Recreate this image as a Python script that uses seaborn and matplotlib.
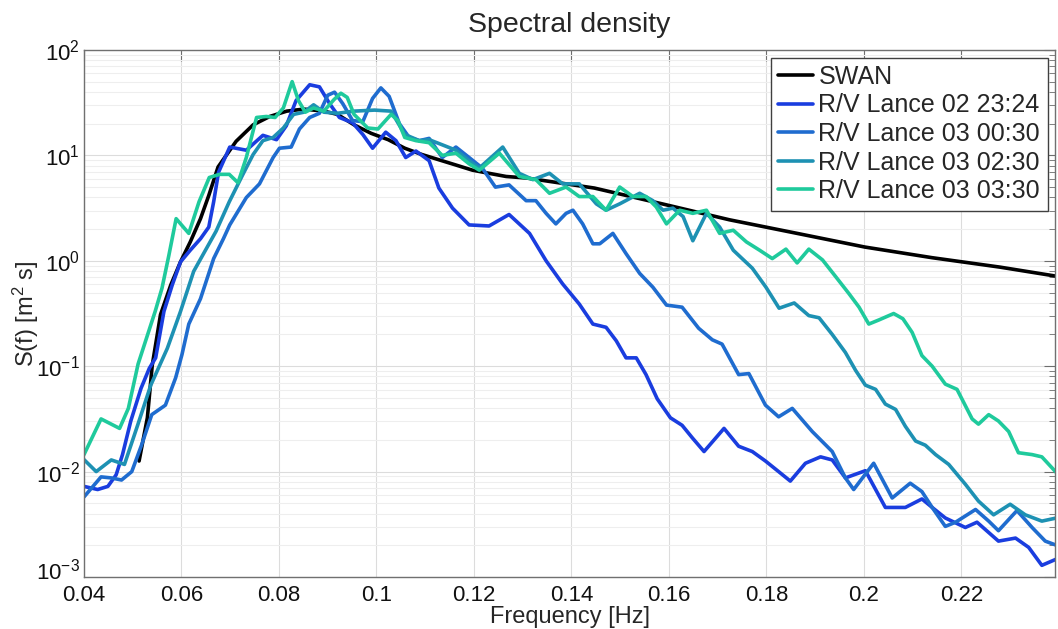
import numpy as np
import pandas as pd
import seaborn as sns
import matplotlib.pyplot as plt
from matplotlib.transforms import ScaledTranslation
from matplotlib.ticker import FixedLocator, FuncFormatter, LogLocator, NullFormatter, NullLocator

# values (frequency in Hz, S in m^2 s)
swan_f = [0.0513, 0.0530, 0.0540, 0.0557, 0.0578, 0.0598, 0.0618, 0.0639, 0.0656, 0.0675,
          0.0712, 0.0747, 0.0781, 0.0816, 0.0851, 0.0892, 0.0920, 0.0954, 0.0989, 0.1024,
          0.1058, 0.1093, 0.1127, 0.1162, 0.1197, 0.1231, 0.1266, 0.1308, 0.1447, 0.1586,
          0.1724, 0.1863, 0.2002, 0.2140, 0.2279, 0.2400]
swan_s = [0.0126, 0.0324, 0.102, 0.309, 0.589, 0.977, 1.51, 2.51, 4.17, 7.76,
          13.6, 19.5, 23.4, 26.3, 27.5, 26.3, 24.5, 19.5, 16.2, 14.1,
          11.7, 10.2, 9.12, 8.13, 7.24, 6.76, 6.31, 6.1, 4.90, 3.47,
          2.45, 1.82, 1.35, 1.07, 0.871, 0.708]

lance1_f = [0.0400, 0.0428, 0.0449, 0.0466, 0.0479, 0.0496, 0.0517, 0.0534, 0.0547, 0.0564,
            0.0581, 0.0598, 0.0618, 0.0639, 0.0656, 0.0666, 0.0676, 0.0699, 0.0733, 0.0767,
            0.0795, 0.0815, 0.0835, 0.0863, 0.0883, 0.0904, 0.0924, 0.0951, 0.0972, 0.0992,
            0.1019, 0.1040, 0.1060, 0.1081, 0.1108, 0.1128, 0.1156, 0.1190, 0.1231, 0.1272,
            0.1314, 0.1348, 0.1382, 0.1416, 0.1444, 0.1471, 0.1492, 0.1512, 0.1533, 0.1553,
            0.1576, 0.1603, 0.1627, 0.1648, 0.1672, 0.1713, 0.1743, 0.1771, 0.1798, 0.1825,
            0.1849, 0.1880, 0.1911, 0.1935, 0.1962, 0.2003, 0.2044, 0.2085, 0.2119, 0.2140,
            0.2167, 0.2208, 0.2232, 0.2276, 0.2311, 0.2338, 0.2365, 0.2395]
lance1_s = [0.00724, 0.00676, 0.00724, 0.00933, 0.0145, 0.0302, 0.0617, 0.0955, 0.120, 0.331,
            0.589, 0.977, 1.26, 1.62, 2.09, 3.63, 6.92, 12.0, 11.2, 15.5,
            14.1, 19.1, 33.1, 46.8, 44.7, 30.9, 22.9, 20.4, 15.8, 11.7,
            16.6, 13.8, 9.55, 11.0, 8.91, 4.90, 3.16, 2.19, 2.14, 2.75,
            1.82, 1.00, 0.603, 0.389, 0.251, 0.234, 0.174, 0.120, 0.120, 0.0832,
            0.0490, 0.0324, 0.0275, 0.0209, 0.0155, 0.0257, 0.0174, 0.0155, 0.0126, 0.0100,
            0.00813, 0.0120, 0.0138, 0.0129, 0.00871, 0.0102, 0.00457, 0.00457, 0.00550, 0.00457,
            0.00363, 0.00295, 0.00331, 0.00219, 0.00234, 0.00191, 0.00129, 0.00148]

lance2_f = [0.0400, 0.0435, 0.0456, 0.0477, 0.0498, 0.0518, 0.0539, 0.0567, 0.0588, 0.0601,
            0.0615, 0.0639, 0.0666, 0.0686, 0.0699, 0.0733, 0.0760, 0.0788, 0.0801, 0.0825,
            0.0842, 0.0863, 0.0883, 0.0900, 0.0914, 0.0931, 0.0951, 0.0972, 0.0992, 0.1009,
            0.1026, 0.1047, 0.1067, 0.1088, 0.1108, 0.1135, 0.1163, 0.1190, 0.1217, 0.1244,
            0.1272, 0.1307, 0.1327, 0.1348, 0.1368, 0.1389, 0.1403, 0.1423, 0.1444, 0.1458,
            0.1485, 0.1512, 0.1540, 0.1567, 0.1595, 0.1627, 0.1661, 0.1689, 0.1709, 0.1743,
            0.1764, 0.1798, 0.1825, 0.1853, 0.1894, 0.1935, 0.1962, 0.1979, 0.2020, 0.2058,
            0.2095, 0.2119, 0.2140, 0.2167, 0.2188, 0.2229, 0.2256, 0.2276, 0.2314, 0.2345,
            0.2372, 0.2395]
lance2_s = [0.00575, 0.00891, 0.00871, 0.00832, 0.0100, 0.0178, 0.0347, 0.0427, 0.0776, 0.129,
            0.251, 0.437, 1.05, 1.62, 2.19, 3.98, 5.37, 9.55, 11.7, 12.0,
            17.8, 22.9, 25.1, 37.2, 39.8, 30.9, 21.4, 20.9, 34.7, 43.7,
            36.3, 20.0, 14.8, 13.8, 14.5, 9.55, 12.0, 9.55, 7.59, 5.0,
            5.25, 3.72, 3.72, 2.82, 2.24, 2.82, 3.02, 2.24, 1.45, 1.45,
            1.82, 1.17, 0.759, 0.562, 0.380, 0.363, 0.229, 0.178, 0.162, 0.0832,
            0.0851, 0.0427, 0.0331, 0.0398, 0.0240, 0.0155, 0.00871, 0.00676, 0.0120, 0.00562,
            0.00776, 0.00646, 0.00457, 0.00302, 0.00331, 0.00437, 0.00339, 0.00275, 0.00427, 0.00295,
            0.00219, 0.00200]

lance3_f = [0.0400, 0.0425, 0.0456, 0.0483, 0.0510, 0.0537, 0.0571, 0.0598, 0.0625, 0.0643,
            0.0671, 0.0698, 0.0726, 0.0747, 0.0767, 0.0788, 0.0809, 0.0830, 0.0851, 0.0871,
            0.0892, 0.0920, 0.0954, 0.0996, 0.1030, 0.1058, 0.1088, 0.1108, 0.1135, 0.1163,
            0.1190, 0.1211, 0.1259, 0.1293, 0.1321, 0.1355, 0.1382, 0.1416, 0.1451, 0.1471,
            0.1499, 0.1540, 0.1567, 0.1588, 0.1608, 0.1629, 0.1649, 0.1677, 0.1704, 0.1732,
            0.1771, 0.1799, 0.1826, 0.1857, 0.1887, 0.1908, 0.1935, 0.1962, 0.1983, 0.2003,
            0.2024, 0.2044, 0.2065, 0.2085, 0.2106, 0.2126, 0.2147, 0.2174, 0.2208, 0.2235,
            0.2266, 0.2300, 0.2331, 0.2365, 0.2395]
lance3_s = [0.0130, 0.0100, 0.0129, 0.0117, 0.0275, 0.0661, 0.148, 0.331, 0.794, 1.12,
            1.91, 3.63, 6.61, 10.2, 13.8, 14.8, 18.2, 24.5, 25.7, 30.2,
            25.7, 25.1, 26.3, 26.9, 26.3, 15.8, 13.8, 14.1, 12.6, 11.2,
            8.91, 7.59, 12.0, 6.76, 5.89, 6.76, 5.37, 5.37, 3.47, 3.02,
            3.47, 4.37, 3.72, 3.02, 3.16, 2.63, 1.55, 2.82, 2.09, 1.26,
            0.851, 0.562, 0.355, 0.398, 0.302, 0.288, 0.200, 0.135, 0.0912, 0.0661,
            0.0603, 0.0437, 0.0389, 0.0269, 0.0195, 0.0178, 0.0145, 0.0117, 0.00759, 0.00525,
            0.00389, 0.00490, 0.00389, 0.00339, 0.00363]

lance4_f = [0.0400, 0.0435, 0.0473, 0.0491, 0.0511, 0.0532, 0.0546, 0.0560, 0.0574, 0.0589,
            0.0615, 0.0636, 0.0657, 0.0678, 0.0698, 0.0716, 0.0733, 0.0754, 0.0774, 0.0792,
            0.0809, 0.0827, 0.0840, 0.0854, 0.0871, 0.0892, 0.0913, 0.0927, 0.0940, 0.0954,
            0.0982, 0.1003, 0.1030, 0.1044, 0.1058, 0.1081, 0.1108, 0.1135, 0.1163, 0.1190,
            0.1211, 0.1252, 0.1293, 0.1327, 0.1355, 0.1389, 0.1416, 0.1444, 0.1471, 0.1499,
            0.1526, 0.1553, 0.1574, 0.1595, 0.1622, 0.1649, 0.1677, 0.1704, 0.1732, 0.1759,
            0.1786, 0.1812, 0.1840, 0.1863, 0.1887, 0.1915, 0.1942, 0.1969, 0.1990, 0.2010,
            0.2031, 0.2061, 0.2080, 0.2099, 0.2119, 0.2140, 0.2167, 0.2191, 0.2222, 0.2235,
            0.2256, 0.2276, 0.2297, 0.2317, 0.2345, 0.2365, 0.2395]
lance4_s = [0.0145, 0.0316, 0.0257, 0.0398, 0.105, 0.209, 0.331, 0.550, 1.12, 2.51,
            1.82, 3.63, 6.17, 6.61, 6.61, 5.50, 9.55, 22.9, 23.4, 22.9,
            28.2, 50.1, 33.1, 25.7, 28.2, 26.3, 33.9, 38.9, 35.5, 24.5,
            18.2, 17.8, 24.5, 21.4, 14.8, 13.8, 13.2, 10.0, 10.5, 8.32,
            7.24, 10.5, 6.31, 5.89, 4.37, 5.01, 4.07, 4.07, 3.02, 5.01,
            4.07, 4.07, 3.24, 2.24, 3.02, 2.82, 3.02, 1.82, 1.95, 1.51,
            1.26, 1.05, 1.29, 0.955, 1.29, 1.02, 0.708, 0.490, 0.363, 0.251,
            0.275, 0.316, 0.282, 0.209, 0.126, 0.100, 0.0676, 0.0603, 0.0316, 0.0282,
            0.0347, 0.0302, 0.0240, 0.0151, 0.0145, 0.0138, 0.00977]

labels = ["SWAN", "R/V Lance 02 23:24", "R/V Lance 03 00:30",
          "R/V Lance 03 02:30", "R/V Lance 03 03:30"]
colors = ["#000000", "#1a3ddf", "#1f6ccf", "#1d91b3", "#1fca9c"]
xticks = [0.04, 0.06, 0.08, 0.1, 0.12, 0.14, 0.16, 0.18, 0.2, 0.22]

frames = []
for lab, f, s in zip(labels,
                     [swan_f, lance1_f, lance2_f, lance3_f, lance4_f],
                     [swan_s, lance1_s, lance2_s, lance3_s, lance4_s]):
    frames.append(pd.DataFrame({"freq": f, "S": s, "series": lab}))
df = pd.concat(frames, ignore_index=True)

sns.set_style("whitegrid")
plt.rcParams["font.family"] = ["Liberation Sans", "DejaVu Sans"]
plt.rcParams["mathtext.default"] = "regular"

fig = plt.figure(figsize=(10.58, 6.29), dpi=100)
ax = fig.add_axes([84 / 1058, 52 / 629, 971 / 1058, 527 / 629])

sns.lineplot(data=df, x="freq", y="S", hue="series", hue_order=labels,
             palette=dict(zip(labels, colors)), estimator=None, sort=False,
             linewidth=2.6, ax=ax)
for ln in ax.lines:
    ln.set_solid_joinstyle("round")
    ln.set_solid_capstyle("round")

ax.set_yscale("log")
ax.set_xlim(0.04, 0.2392)
ax.set_ylim(1e-3, 1e2)

ax.xaxis.set_major_locator(FixedLocator(xticks))
ax.xaxis.set_major_formatter(FuncFormatter(lambda v, p: f"{v:g}"))
ax.xaxis.set_minor_locator(NullLocator())
ax.yaxis.set_major_locator(LogLocator(base=10, numticks=10))
ax.yaxis.set_minor_locator(LogLocator(base=10, subs=np.arange(2, 10), numticks=20))
ax.yaxis.set_minor_formatter(NullFormatter())

ax.tick_params(which="both", direction="in", top=True, right=True,
               color="#6e6e6e", labelcolor="#111111", labelsize=16)
ax.tick_params(axis="x", which="major", length=8, pad=6)
ax.tick_params(axis="y", which="major", length=8, pad=3)
ax.tick_params(which="minor", length=4.5)

ax.grid(which="major", color="#dcdcdc", linewidth=0.8)
ax.grid(which="minor", axis="y", color="#eeeeee", linewidth=0.8)
ax.grid(which="minor", axis="x", visible=False)
for sp in ax.spines.values():
    sp.set_visible(True)
    sp.set_color("#707070")
    sp.set_linewidth(1.0)

ax.set_xlabel("Frequency [Hz]", fontsize=17, labelpad=0)
ax.set_ylabel("S(f) [m$^2$ s]", fontsize=17)
ax.yaxis.set_label_coords(-0.044, 0.5)
ax.set_title("Spectral density", fontsize=20.5, pad=13)

sns.move_legend(ax, "upper right", title=None, fontsize=18, frameon=True,
                fancybox=False, edgecolor="#404040", framealpha=1,
                borderpad=0.3, labelspacing=0.18, handlelength=1.4,
                handletextpad=0.2, borderaxespad=0.3)
ax.get_legend().get_frame().set_linewidth(1.0)

# nudge the bottom y label up a little so it clears the 0.04 label
fig.canvas.draw()
for tick in ax.yaxis.get_major_ticks():
    if np.isclose(tick.get_loc(), 1e-3):
        lbl = tick.label1
        lbl.set_transform(lbl.get_transform() + ScaledTranslation(0, 6 / 72, fig.dpi_scale_trans))

plt.savefig("out.png", dpi=100)
